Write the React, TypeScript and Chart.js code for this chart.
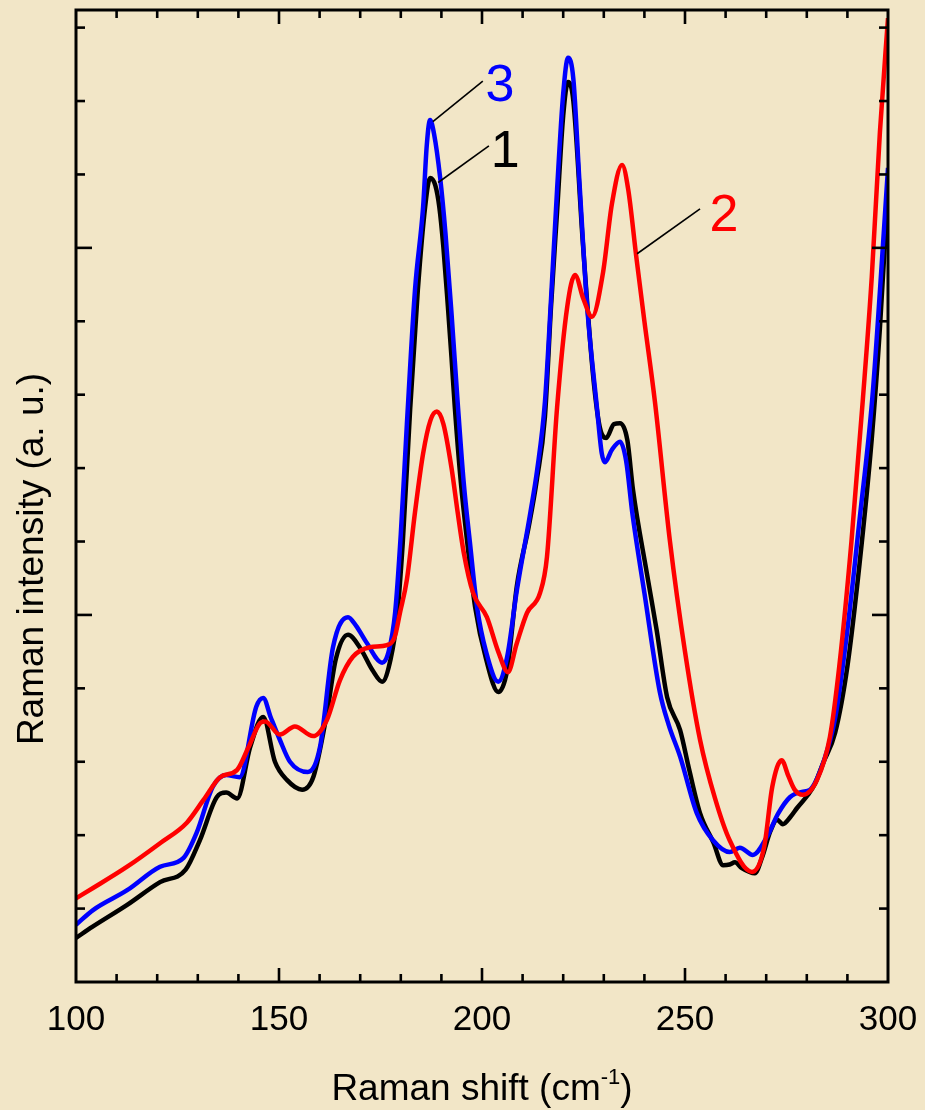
import { useEffect, useRef } from 'react';
import { Chart, registerables } from 'chart.js';

Chart.register(...registerables);

// Spectrum 1 (black)
const shift1 = [
  100, 104, 112.6, 120.7, 127, 130.5, 134.7, 137, 139.7, 142.9, 146.1, 149, 152, 155.7, 158.5,
  161.8, 164, 167, 170, 173, 175.4, 177.5, 179, 180.5, 182.3, 184.2, 186, 187.2, 188.5, 189.5,
  190.5, 191.6, 192.5, 193.3, 194.8, 196.3, 198.3, 201, 204, 206.2, 208.6, 211.5, 213.5, 215.5,
  217, 218.5, 220, 221.2, 222.5, 224.8, 227.3, 229, 230.6, 232.5, 234, 235.8, 237.2, 240.6,
  243, 245.6, 248.8, 251, 253.7, 257, 259.4, 261, 262.3, 264, 267.2, 269, 271, 272.7, 274.1,
  276, 277.6, 280.3, 282, 284, 287, 290, 293, 296, 298, 300,
];
const intensity1 = [
  0.6, 0.75, 1.05, 1.36, 1.53, 1.93, 2.52, 2.58, 2.5, 3.2, 3.61, 3.0, 2.75, 2.62, 2.8,
  3.66, 4.4, 4.73, 4.55, 4.25, 4.09, 4.4, 4.93, 6.0, 7.8, 9.43, 10.56, 10.95, 10.85, 10.55,
  10.0, 9.2, 8.5, 7.83, 6.8, 6.02, 5.11, 4.4, 3.95, 4.25, 5.4, 6.2, 6.84, 7.7,
  9.2, 10.5, 11.8, 12.26, 12.0, 10.1, 8.3, 7.56, 7.41, 7.6, 7.61, 7.38, 6.7, 5.57,
  4.8, 3.88, 3.43, 2.9, 2.3, 1.9, 1.59, 1.6, 1.63, 1.55, 1.48, 1.7, 2.05, 2.21, 2.15,
  2.25, 2.37, 2.55, 2.7, 2.98, 3.4, 4.3, 5.7, 7.4, 8.9, 10.8,
];

// Spectrum 2 (red)
const shift2 = [
  100, 104.2, 112.6, 120.7, 127.3, 131.4, 135.5, 139.7, 142.5, 145.4, 146.6, 150.2, 153.9, 158.4,
  161.8, 165, 168.2, 172.4, 176.6, 178.5, 179.8, 181.5, 183.5, 185.5, 187.3, 188.9, 190.5, 192.5,
  194, 195.5, 197.8, 201.2, 204, 206.4, 208.5, 211.1, 214.3, 216, 218.5, 221, 222.9, 225,
  227.1, 229.8, 232, 234.5, 236, 238, 240, 242.6, 246.3, 250, 253.7, 257.4, 261, 266.5,
  269.5, 271.5, 273.8, 275.5, 277, 279, 282.5, 285.7, 288, 291, 293.8, 296, 298, 300,
];
const intensity2 = [
  1.14, 1.28, 1.57, 1.89, 2.17, 2.48, 2.79, 2.89, 3.2, 3.53, 3.55, 3.37, 3.48, 3.35,
  3.57, 4.11, 4.43, 4.56, 4.59, 4.7, 5.03, 5.48, 6.4, 7.2, 7.65, 7.77, 7.6, 7.0,
  6.4, 5.85, 5.3, 4.97, 4.5, 4.22, 4.6, 5.03, 5.3, 5.79, 7.83, 9.2, 9.63, 9.3,
  9.06, 9.66, 10.6, 11.13, 10.8, 9.88, 9.0, 7.9, 6.0, 4.5, 3.3, 2.5, 1.93, 1.5,
  1.84, 2.66, 3.02, 2.8, 2.62, 2.55, 2.75, 3.34, 4.3, 6.0, 7.93, 9.6, 11.57, 13.13,
];

// Spectrum 3 (blue)
const shift3 = [
  100, 104.2, 112.6, 120.7, 126.5, 129.7, 133.7, 137, 140.3, 144.4, 146.1, 148, 150.2, 152.7,
  157.1, 160.1, 163.3, 167, 169, 171.6, 175.4, 177, 178.6, 180, 181.5, 183.5, 185.5, 186.4,
  187.2, 188.2, 189.7, 191, 192.5, 194, 195.5, 197, 198.8, 201, 204, 206.2, 208.6, 211.9,
  213.6, 215.5, 217, 218.5, 220, 221.2, 222.5, 224, 225.9, 228.3, 229.5, 230.3, 232, 234,
  235.5, 237, 240, 243.8, 246, 248.8, 252.9, 256.9, 261, 263.5, 266.7, 270.2, 273, 275.9,
  278.8, 280.8, 284, 287, 290, 293, 296.1, 298, 300,
];
const intensity3 = [
  0.78, 0.98, 1.25, 1.57, 1.69, 2.03, 2.66, 2.82, 2.79, 3.75, 3.87, 3.6, 3.3, 3.0,
  2.86, 3.2, 4.56, 4.97, 4.85, 4.62, 4.35, 4.5, 5.03, 6.1, 7.6, 9.43, 10.56, 11.4,
  11.74, 11.55, 10.95, 10.2, 9.1, 7.9, 6.8, 6.0, 5.1, 4.5, 4.09, 4.43, 5.34, 6.39,
  6.98, 7.9, 9.3, 10.8, 12.1, 12.59, 12.3, 10.9, 9.2, 7.83, 7.2, 7.08, 7.25, 7.36,
  7.1, 6.4, 5.3, 3.95, 3.5, 3.07, 2.3, 1.93, 1.77, 1.83, 1.73, 1.98, 2.3, 2.52,
  2.59, 2.62, 2.98, 3.6, 4.8, 6.3, 7.93, 9.4, 11.09,
];

// Curve numbers with their leader lines (data units)
const curveNumbers = ['3', '1', '2'];
const numberX = [204.4, 205.7, 259.6];
const numberY = [12.25, 11.36, 10.48];
const leaderStartX = [200.2, 201.7, 253.7];
const leaderStartY = [12.27, 11.39, 10.53];
const leaderEndX = [187.9, 189.2, 238.2];
const leaderEndY = [11.72, 10.89, 9.92];

const xMin = 100;
const xMax = 300;
const yMin = 0;
const yMax = 13.24;

const FONT = '"Liberation Sans", Arial, Helvetica, sans-serif';
const PAPER = 'rgb(242, 230, 199)';
const numberColors: Record<string, string> = { '1': '#000000', '2': '#ff0000', '3': '#0000ff' };

const toPoints = (xs: number[], ys: number[]) => xs.map((x, i) => ({ x, y: ys[i] }));

const paperPlugin = {
  id: 'paper',
  beforeDraw(chart: any) {
    const { ctx, width, height } = chart;
    ctx.save();
    ctx.fillStyle = PAPER;
    ctx.fillRect(0, 0, width, height);
    ctx.restore();
  },
};

const framePlugin = {
  id: 'frame',
  afterDatasetsDraw(chart: any) {
    const { ctx, scales } = chart;
    const xs = scales.x;
    const ys = scales.y;
    ctx.save();
    // leader lines
    ctx.strokeStyle = '#000';
    ctx.lineWidth = 1.6;
    for (let i = 0; i < curveNumbers.length; i++) {
      ctx.beginPath();
      ctx.moveTo(xs.getPixelForValue(leaderStartX[i]), ys.getPixelForValue(leaderStartY[i]));
      ctx.lineTo(xs.getPixelForValue(leaderEndX[i]), ys.getPixelForValue(leaderEndY[i]));
      ctx.stroke();
    }
    // curve numbers
    const size = 52;
    ctx.font = `${size}px ${FONT}`;
    ctx.textAlign = 'center';
    ctx.textBaseline = 'alphabetic';
    for (let i = 0; i < curveNumbers.length; i++) {
      ctx.fillStyle = numberColors[curveNumbers[i]];
      ctx.fillText(
        curveNumbers[i],
        xs.getPixelForValue(numberX[i]),
        ys.getPixelForValue(numberY[i]) + size * 0.358,
      );
    }
    ctx.restore();
  },
  afterDraw(chart: any) {
    const { ctx, chartArea: a, scales } = chart;
    const xs = scales.x;
    const ys = scales.y;
    ctx.save();
    ctx.strokeStyle = '#000';
    ctx.lineCap = 'butt';

    const seg = (x1: number, y1: number, x2: number, y2: number) => {
      ctx.beginPath();
      ctx.moveTo(x1, y1);
      ctx.lineTo(x2, y2);
      ctx.stroke();
    };

    // inward ticks on all four sides
    ctx.lineWidth = 2.6;
    xs.ticks.forEach((t: any) => {
      const v = t.value;
      if (v <= xMin || v >= xMax) return;
      const px = xs.getPixelForValue(v);
      const len = v % 50 === 0 ? 14 : 8;
      seg(px, a.bottom, px, a.bottom - len);
      seg(px, a.top, px, a.top + len);
    });
    ys.ticks.forEach((t: any) => {
      const v = t.value;
      if (Math.abs(v - Math.round(v)) > 1e-6 || v <= yMin) return;
      const py = ys.getPixelForValue(v);
      const len = Math.round(v) % 5 === 0 ? 16 : 9;
      seg(a.left, py, a.left + len, py);
      seg(a.right, py, a.right - len, py);
    });

    // frame
    ctx.lineWidth = 3;
    ctx.strokeRect(a.left, a.top, a.right - a.left, a.bottom - a.top);

    // x tick labels
    ctx.fillStyle = '#000';
    ctx.font = `35px ${FONT}`;
    ctx.textAlign = 'center';
    ctx.textBaseline = 'alphabetic';
    xs.ticks.forEach((t: any) => {
      if (t.value % 50 !== 0) return;
      ctx.fillText(String(t.value), xs.getPixelForValue(t.value), a.bottom + 48);
    });

    // x title with superscript
    const cx = (a.left + a.right) / 2;
    const base = 1100;
    const mainSize = 37;
    const supSize = 22;
    const partA = 'Raman shift (cm';
    const partSup = '-1';
    const partB = ')';
    ctx.font = `${mainSize}px ${FONT}`;
    const wA = ctx.measureText(partA).width;
    const wB = ctx.measureText(partB).width;
    ctx.font = `${supSize}px ${FONT}`;
    const wS = ctx.measureText(partSup).width;
    let x0 = cx - (wA + wS + wB) / 2;
    ctx.textAlign = 'left';
    ctx.font = `${mainSize}px ${FONT}`;
    ctx.fillText(partA, x0, base);
    x0 += wA;
    ctx.font = `${supSize}px ${FONT}`;
    ctx.fillText(partSup, x0, base - 16);
    x0 += wS;
    ctx.font = `${mainSize}px ${FONT}`;
    ctx.fillText(partB, x0, base);

    // y title
    ctx.save();
    ctx.translate(43, (a.top + a.bottom) / 2 + 63);
    ctx.rotate(-Math.PI / 2);
    ctx.textAlign = 'center';
    ctx.font = `37px ${FONT}`;
    ctx.fillText('Raman intensity (a. u.)', 0, 0);
    ctx.restore();

    ctx.restore();
  },
};

export default function App() {
  const canvasRef = useRef<HTMLCanvasElement | null>(null);

  useEffect(() => {
    document.body.style.margin = '0';
    document.body.style.background = PAPER;
    const canvas = canvasRef.current;
    if (!canvas) return;

    const chart = new Chart(canvas, {
      type: 'line',
      data: {
        datasets: [
          {
            label: '2',
            data: toPoints(shift2, intensity2),
            borderColor: '#ff0000',
            borderWidth: 4.5,
            pointRadius: 0,
            cubicInterpolationMode: 'monotone',
            fill: false,
          },
          {
            label: '3',
            data: toPoints(shift3, intensity3),
            borderColor: '#0000ff',
            borderWidth: 4.5,
            pointRadius: 0,
            cubicInterpolationMode: 'monotone',
            fill: false,
          },
          {
            label: '1',
            data: toPoints(shift1, intensity1),
            borderColor: '#000000',
            borderWidth: 4.5,
            pointRadius: 0,
            cubicInterpolationMode: 'monotone',
            fill: false,
          },
        ],
      },
      options: {
        responsive: false,
        animation: false,
        events: [],
        layout: { padding: { top: 10, right: 37, left: 0, bottom: 0 } },
        plugins: { legend: { display: false }, tooltip: { enabled: false } },
        scales: {
          x: {
            type: 'linear',
            min: xMin,
            max: xMax,
            ticks: { stepSize: 10, display: false },
            grid: { display: false },
            border: { display: false },
            afterFit: (s: any) => {
              s.height = 128;
            },
          },
          y: {
            type: 'linear',
            min: yMin,
            max: yMax,
            ticks: { stepSize: 1, display: false },
            grid: { display: false },
            border: { display: false },
            afterFit: (s: any) => {
              s.width = 76;
            },
          },
        },
      },
      plugins: [paperPlugin, framePlugin],
    });

    return () => chart.destroy();
  }, []);

  return (
    <canvas
      ref={canvasRef}
      width={925}
      height={1110}
      style={{ display: 'block', width: 925, height: 1110 }}
    />
  );
}
